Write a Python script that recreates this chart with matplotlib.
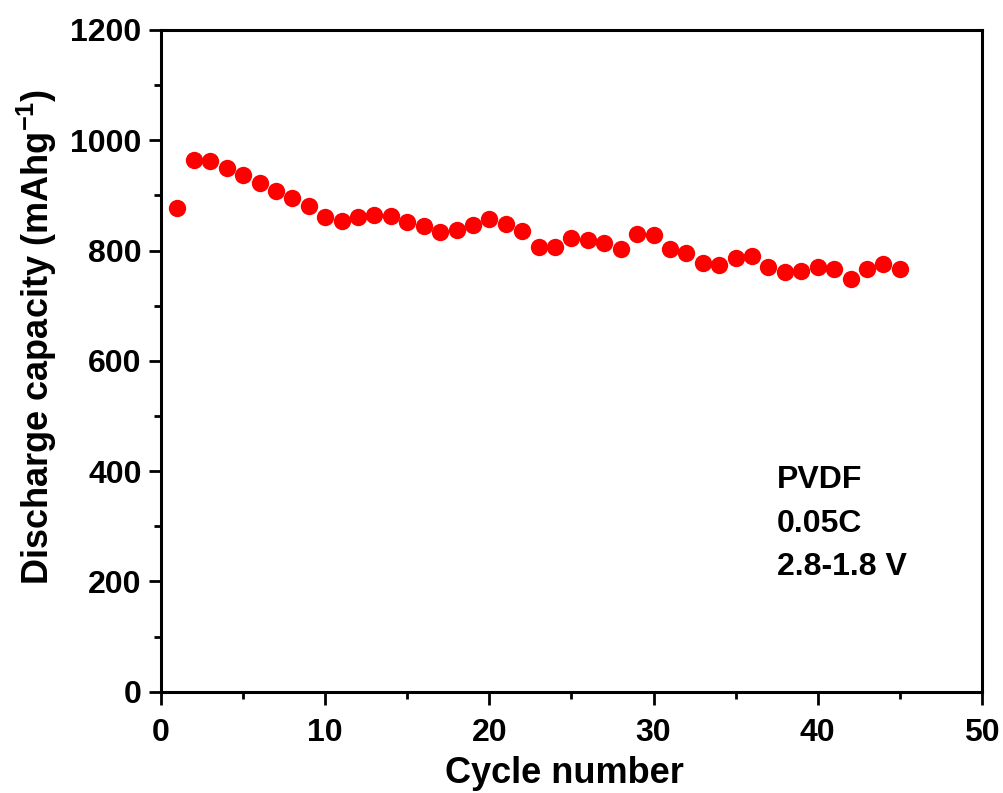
import matplotlib
matplotlib.use("Agg")
import matplotlib.pyplot as plt
from matplotlib.ticker import MultipleLocator

plt.rcParams["font.family"] = ["Liberation Sans", "DejaVu Sans"]
plt.rcParams["font.weight"] = "bold"
plt.rcParams["mathtext.fontset"] = "custom"
plt.rcParams["mathtext.rm"] = "Liberation Sans"
plt.rcParams["mathtext.default"] = "rm"

# discharge capacity per cycle
cycles = list(range(1, 46))
capacity = [
    878, 964, 962, 950, 937, 922, 908, 896, 881, 860,
    853, 860, 864, 863, 851, 845, 834, 837, 846, 857,
    849, 836, 807, 807, 823, 820, 813, 802, 830, 829,
    802, 795, 778, 773, 786, 791, 770, 762, 763, 770,
    766, 748, 767, 775, 767,
]
note_lines = ["PVDF", "0.05C", "2.8-1.8 V"]

fig = plt.figure(figsize=(10.04, 7.93), dpi=100)
ax = fig.add_axes([0.1604, 0.1277, 0.8176, 0.8345])

ax.plot(cycles, capacity, "o", color="#ff0000", markersize=12.5, markeredgewidth=0)

ax.set_xlim(0, 50)
ax.set_ylim(0, 1200)
ax.xaxis.set_major_locator(MultipleLocator(10))
ax.xaxis.set_minor_locator(MultipleLocator(5))
ax.yaxis.set_major_locator(MultipleLocator(200))
ax.yaxis.set_minor_locator(MultipleLocator(100))

for side in ax.spines.values():
    side.set_linewidth(2.2)
ax.tick_params(which="major", direction="out", length=9, width=2, labelsize=23, pad=5)
ax.tick_params(axis="x", which="major", pad=10)
ax.tick_params(which="minor", direction="out", length=5, width=2)
ax.tick_params(top=False, right=False)
for lab in ax.get_xticklabels() + ax.get_yticklabels():
    lab.set_fontweight("bold")

ax.set_xlabel("Cycle number", fontsize=26, fontweight="bold")
ax.set_ylabel("Discharge capacity (mAhg$^{-1}$)", fontsize=26, fontweight="bold", labelpad=8)
ax.xaxis.set_label_coords(0.492, -0.097)
ax.yaxis.label.set_y(0.536)

for i, line in enumerate(note_lines):
    ax.text(37.5, 369 - 79 * i, line, fontsize=23, fontweight="bold", va="baseline")

fig.savefig("out.png", dpi=100)
